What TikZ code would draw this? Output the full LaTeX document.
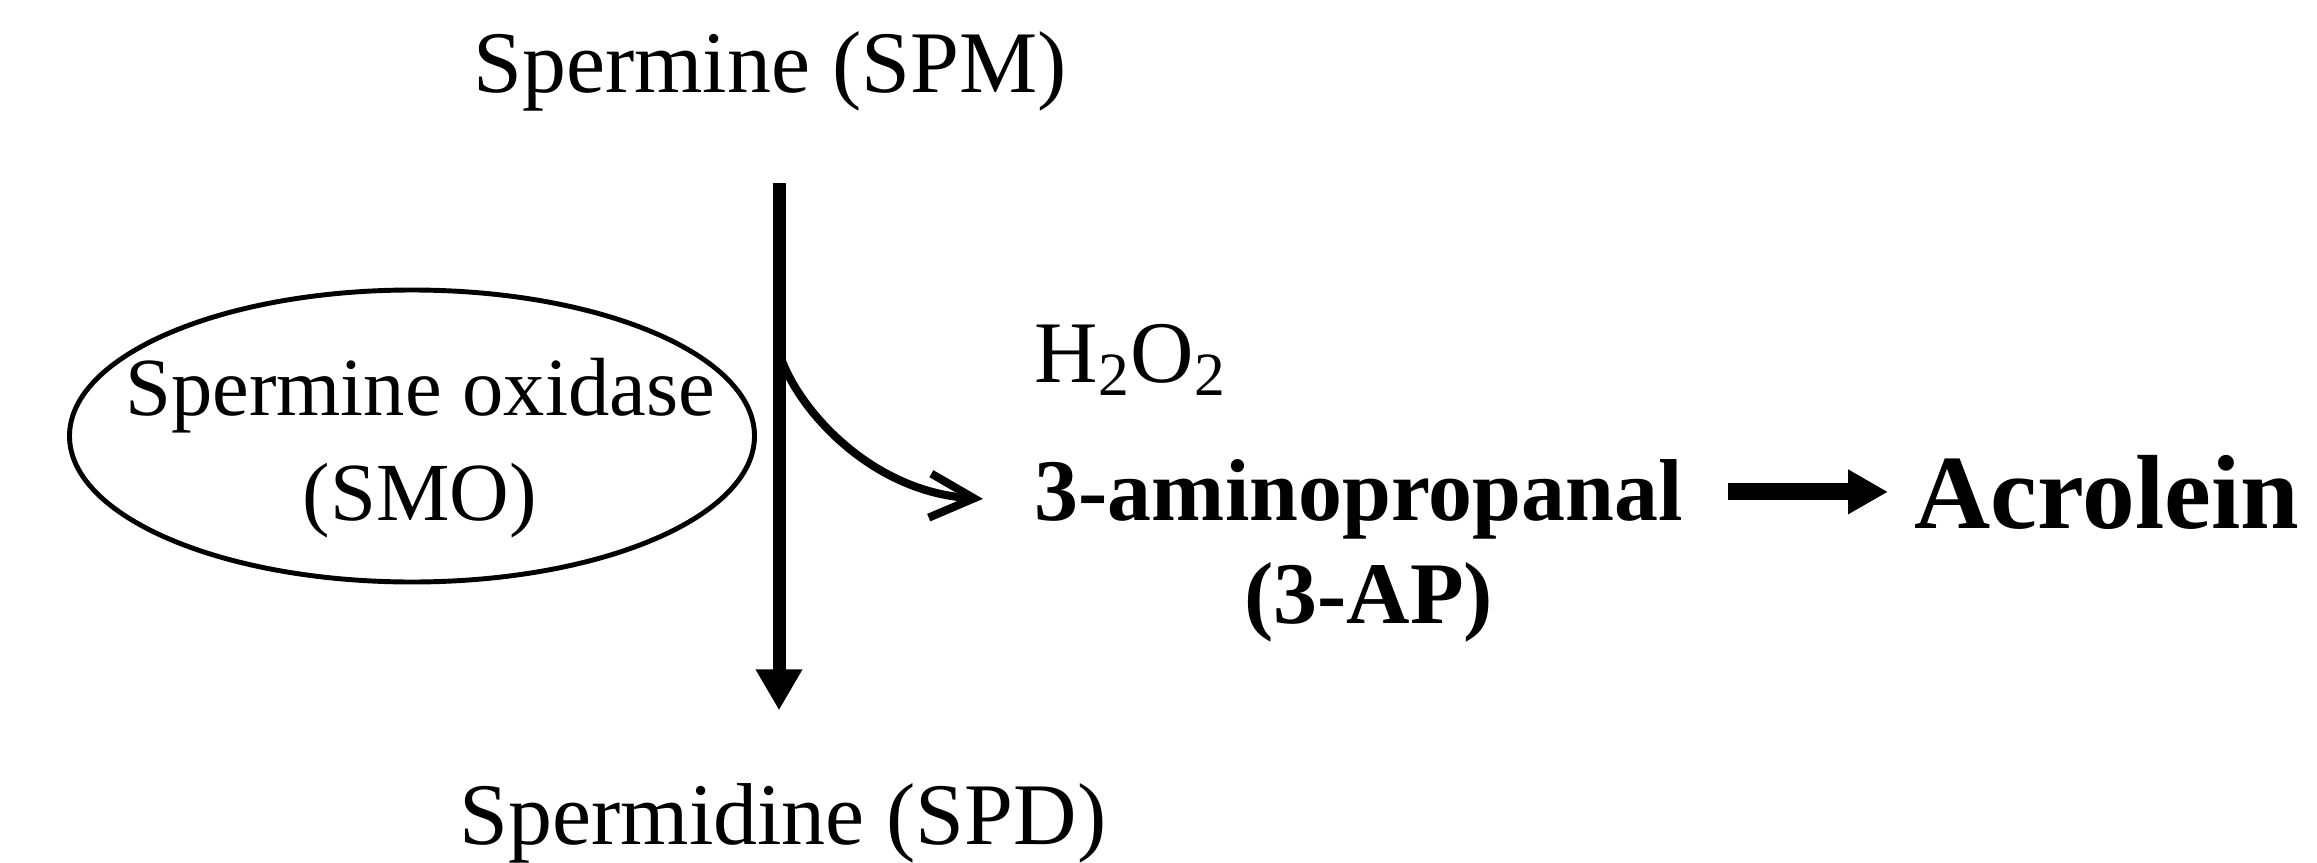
\documentclass[tikz,border=0pt]{standalone}
\usepackage{fontspec}
\setmainfont{Liberation Serif}
\usepackage{tikz}
\usetikzlibrary{positioning,arrows.meta,shapes.geometric,calc}

\begin{document}
\begin{tikzpicture}[
  chem/.style={inner sep=0pt, font=\fontsize{25}{29.3}\selectfont},
  product/.style={inner sep=0pt, font=\fontsize{25}{29.3}\selectfont\bfseries},
  enzyme/.style={ellipse, draw=black, line width=1.4pt, minimum width=6.85cm, minimum height=2.92cm, inner sep=0pt},
  enzymetext/.style={inner sep=0pt, align=center, font=\fontsize{23.5}{30}\selectfont},
  mainarrow/.style={-{Triangle[length=4.1mm, width=4.4mm]}, line width=3.7pt},
  bentarrow/.style={-{Straight Barb[length=4.4mm, width=4.4mm]}, line width=2.3pt},
  steparrow/.style={-{Triangle[length=4mm, width=4.2mm]}, line width=4.8pt}
]
\useasboundingbox (0,0) rectangle (23.17,8.62);

% Spermine and spermidine
\node[chem, anchor=base] (spm) at (7.70,7.70) {Spermine (SPM)};
\node[chem, anchor=base] (spd) at (7.83,0.18) {Spermidine (SPD)};
\coordinate (bend) at (7.79,5.10);
\draw[mainarrow, shorten <=0.72cm, shorten >=0.72cm] (spm.south -| bend) -- (spd.north -| bend);

% Enzyme
\node[enzyme] (smo) at (4.12,4.26) {};
\node[enzymetext] (smotext) at ([xshift=0.08cm, yshift=-0.12cm]smo.center) {Spermine oxidase\\(SMO)};

% Products
\node[chem, anchor=base west] (hperox) at (10.34,4.80) {H\textsubscript{2}O\textsubscript{2}};
\node[product, anchor=base west] (ap) at (10.34,3.42) {3-aminopropanal};
\node[product, anchor=base] (apabbr) at ([xshift=0.1cm, yshift=-1.03cm]ap.base) {(3-AP)};
\node[inner sep=0pt, font=\fontsize{30}{36}\selectfont\bfseries, anchor=base west] (acr) at (19.14,3.34) {Acrolein};

% Side branch and last step
\draw[bentarrow] (bend) .. controls (7.95,4.55) and (8.7,3.70) .. ([xshift=-0.51cm]ap.west);
\draw[steparrow] ([xshift=0.45cm, yshift=0.07cm]ap.east) -- ([xshift=-0.26cm, yshift=0.07cm]acr.west |- ap.east);

\end{tikzpicture}
\end{document}
